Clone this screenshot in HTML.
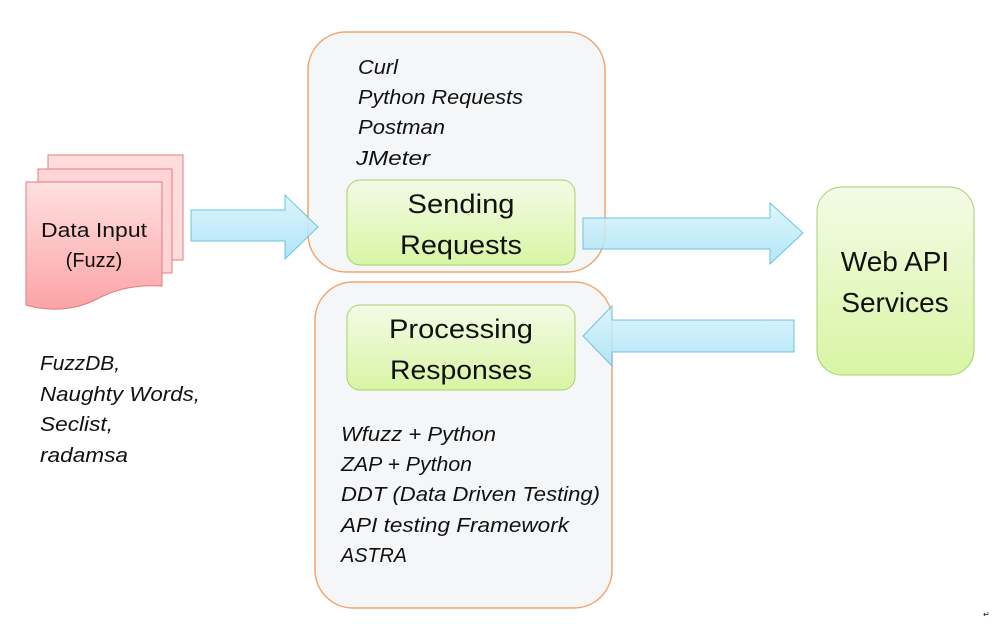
<!DOCTYPE html>
<html><head><meta charset="utf-8"><style>
html,body{margin:0;padding:0;background:#fff;}
svg text{font-family:"Liberation Sans",sans-serif;fill:#111;}
.it{font-style:italic;font-size:20px;}
</style></head><body>
<svg width="1002" height="638" viewBox="0 0 1002 638" xmlns="http://www.w3.org/2000/svg">
<defs>
<linearGradient id="pk" x1="0" y1="0" x2="0" y2="1"><stop offset="0" stop-color="#ffe0e0"/><stop offset="1" stop-color="#fba4a6"/></linearGradient>
<linearGradient id="gr" x1="0" y1="0" x2="0" y2="1"><stop offset="0" stop-color="#f3fbe6"/><stop offset="1" stop-color="#d8f5a4"/></linearGradient>
<linearGradient id="bl" x1="0" y1="0" x2="0" y2="1"><stop offset="0" stop-color="#d8f4fd"/><stop offset="1" stop-color="#a8e2f6"/></linearGradient>
</defs>
<rect x="308" y="32" width="297" height="240" rx="38" fill="#f5f6f8" stroke="#f4a46a" stroke-width="1.5"/>
<rect x="315" y="282" width="297" height="326" rx="38" fill="#f5f6f8" stroke="#f4a46a" stroke-width="1.5"/>
<rect x="48" y="155" width="135" height="105" fill="#ffdcdc" stroke="#e07b80" stroke-width="1"/>
<rect x="38" y="169" width="134" height="104" fill="#ffd4d5" stroke="#e07b80" stroke-width="1"/>
<path d="M26 182 H162 V286 C130 284 110 292 95 300 C75 310 50 312 26 305 Z" fill="url(#pk)" stroke="#e07b80" stroke-width="1"/>
<text x="41" y="237" font-size="20" textLength="106" lengthAdjust="spacingAndGlyphs">Data Input</text>
<text x="94" y="267" font-size="20" text-anchor="middle">(Fuzz)</text>
<path d="M191 210 H285 V195 L318 227 L285 259 V241 H191 Z" fill="url(#bl)" fill-opacity="0.9" stroke="#6cc3dd" stroke-width="1"/>
<path d="M583 218 H770 V203 L803 233 L770 264 V249 H583 Z" fill="url(#bl)" fill-opacity="0.85" stroke="#6cc3dd" stroke-width="1"/>
<path d="M794 320 H612 V306 L583 336 L612 366 V352 H794 Z" fill="url(#bl)" fill-opacity="0.85" stroke="#6cc3dd" stroke-width="1"/>
<rect x="347" y="180" width="228" height="85" rx="13" fill="url(#gr)" stroke="#a9cf6c" stroke-width="1"/>
<text x="461" y="213" font-size="27" text-anchor="middle" textLength="107" lengthAdjust="spacingAndGlyphs">Sending</text>
<text x="461" y="254" font-size="27" text-anchor="middle" textLength="122" lengthAdjust="spacingAndGlyphs">Requests</text>
<rect x="347" y="305" width="228" height="85" rx="13" fill="url(#gr)" stroke="#a9cf6c" stroke-width="1"/>
<text x="461" y="338" font-size="27" text-anchor="middle" textLength="144" lengthAdjust="spacingAndGlyphs">Processing</text>
<text x="461" y="379" font-size="27" text-anchor="middle" textLength="142" lengthAdjust="spacingAndGlyphs">Responses</text>
<rect x="817" y="187" width="157" height="188" rx="25" fill="url(#gr)" stroke="#a9cf6c" stroke-width="1"/>
<text x="895" y="271" font-size="28" text-anchor="middle">Web API</text>
<text x="895" y="312" font-size="28" text-anchor="middle">Services</text>
<text x="358" y="74" class="it" textLength="40" lengthAdjust="spacingAndGlyphs">Curl</text>
<text x="358" y="104" class="it" textLength="165" lengthAdjust="spacingAndGlyphs">Python Requests</text>
<text x="358" y="134" class="it" textLength="87" lengthAdjust="spacingAndGlyphs">Postman</text>
<text x="356" y="165" class="it" textLength="74" lengthAdjust="spacingAndGlyphs">JMeter</text>
<text x="341" y="441" class="it" textLength="155" lengthAdjust="spacingAndGlyphs">Wfuzz + Python</text>
<text x="341" y="471" class="it" textLength="131" lengthAdjust="spacingAndGlyphs">ZAP + Python</text>
<text x="341" y="501" class="it" textLength="259" lengthAdjust="spacingAndGlyphs">DDT (Data Driven Testing)</text>
<text x="341" y="532" class="it" textLength="228" lengthAdjust="spacingAndGlyphs">API testing Framework</text>
<text x="341" y="562" class="it" textLength="66" lengthAdjust="spacingAndGlyphs">ASTRA</text>
<text x="40" y="370" class="it" textLength="80" lengthAdjust="spacingAndGlyphs">FuzzDB,</text>
<text x="40" y="401" class="it" textLength="160" lengthAdjust="spacingAndGlyphs">Naughty Words,</text>
<text x="40" y="431" class="it" textLength="73" lengthAdjust="spacingAndGlyphs">Seclist,</text>
<text x="40" y="462" class="it" textLength="88" lengthAdjust="spacingAndGlyphs">radamsa</text>
<text x="983" y="617" font-size="8" fill="#555">↵</text>
</svg>
</body></html>
